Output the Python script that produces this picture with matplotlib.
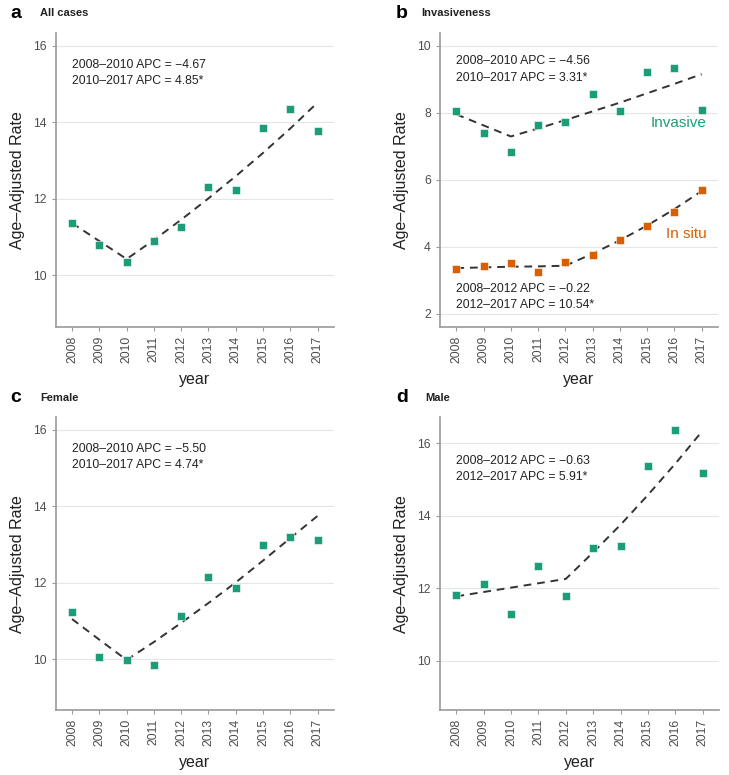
import matplotlib
matplotlib.use("Agg")
import matplotlib.pyplot as plt
import numpy as np

plt.rcParams['font.family'] = ['Liberation Sans', 'DejaVu Sans']

years = np.arange(2008, 2018)

# panel a: all cases
all_obs = [11.37, 10.80, 10.35, 10.89, 11.25, 12.31, 12.24, 13.86, 14.34, 13.78]
all_fit = [11.36, 10.89, 10.42, 10.92, 11.45, 12.01, 12.59, 13.20, 13.84, 14.52]
all_txt = ["2008–2010 APC = −4.67", "2010–2017 APC = 4.85*"]

# panel b: invasiveness
inv_obs = [8.05, 7.39, 6.83, 7.64, 7.72, 8.57, 8.04, 9.23, 9.32, 8.08]
inv_fit = [7.95, 7.62, 7.29, 7.53, 7.78, 8.04, 8.30, 8.58, 8.86, 9.15]
inv_txt = ["2008–2010 APC = −4.56", "2010–2017 APC = 3.31*"]
situ_obs = [3.32, 3.41, 3.50, 3.24, 3.53, 3.74, 4.19, 4.63, 5.02, 5.70]
situ_fit = [3.36, 3.38, 3.40, 3.41, 3.43, 3.79, 4.19, 4.63, 5.12, 5.66]
situ_txt = ["2008–2012 APC = −0.22", "2012–2017 APC = 10.54*"]

# panel c: female
fem_obs = [11.23, 10.05, 9.97, 9.86, 11.13, 12.16, 11.85, 12.99, 13.21, 13.12]
fem_fit = [11.05, 10.51, 9.98, 10.45, 10.95, 11.47, 12.01, 12.58, 13.17, 13.75]
fem_txt = ["2008–2010 APC = −5.50", "2010–2017 APC = 4.74*"]

# panel d: male
male_obs = [11.81, 12.12, 11.30, 12.61, 11.79, 13.12, 13.17, 15.38, 16.36, 15.17]
male_fit = [11.78, 11.90, 12.02, 12.14, 12.26, 12.99, 13.75, 14.57, 15.43, 16.34]
male_txt = ["2008–2012 APC = −0.63", "2012–2017 APC = 5.91*"]

GREEN = '#1b9e77'
ORANGE = '#d95f02'
GREY = '#4d4d4d'

fig = plt.figure(figsize=(7.29, 7.75), dpi=100)
W, H = 729, 775


def make_ax(l, t, r, b):
    return fig.add_axes([l / W, 1 - b / H, (r - l) / W, (b - t) / H])


def style(ax, ylim, yticks):
    ax.set_xlim(2007.4, 2017.6)
    ax.set_ylim(*ylim)
    ax.set_xticks(years)
    ax.set_xticklabels([str(y) for y in years], rotation=90)
    ax.set_yticks(yticks)
    ax.grid(axis='y', color='#e5e5e5', lw=0.8)
    ax.set_axisbelow(True)
    for s in ['top', 'right']:
        ax.spines[s].set_visible(False)
    for s in ['left', 'bottom']:
        ax.spines[s].set_color('#9a9a9a')
        ax.spines[s].set_linewidth(1.2)
    ax.tick_params(colors='#9a9a9a', labelcolor=GREY, labelsize=8.8, length=3, width=0.8)
    ax.set_xlabel('year', fontsize=11.5, color='#222222', labelpad=6)
    ax.set_ylabel('Age–Adjusted Rate', fontsize=11.5, color='#222222', labelpad=6)


def series(ax, obs, fit, color):
    ax.plot(years, fit, ls=(0, (4, 3)), color='#333333', lw=1.4, zorder=2)
    ax.plot(years, obs, ls='none', marker='s', ms=5.2, color=color,
            markeredgecolor='white', markeredgewidth=0.4, zorder=3)


def apc(ax, lines, y1, y2):
    ax.text(2008, y1, lines[0], fontsize=8.8, color='#222222', va='center', ha='left')
    ax.text(2008, y2, lines[1], fontsize=8.8, color='#222222', va='center', ha='left')


def header(x, y, letter, title, xt):
    fig.text(x / W, 1 - y / H, letter, fontsize=14, fontweight='bold', va='center', ha='left')
    fig.text(xt / W, 1 - y / H, title, fontsize=8, fontweight='bold', color='#222222',
             va='center', ha='left')


# a
axa = make_ax(55.7, 33, 334, 327)
style(axa, (8.64, 16.34), [10, 12, 14, 16])
series(axa, all_obs, all_fit, GREEN)
apc(axa, all_txt, 15.50, 15.09)
header(10, 13, 'a', 'All cases', 39.5)

# b
axb = make_ax(440, 33, 718, 327)
style(axb, (1.6, 10.38), [2, 4, 6, 8, 10])
series(axb, inv_obs, inv_fit, GREEN)
series(axb, situ_obs, situ_fit, ORANGE)
apc(axb, inv_txt, 9.53, 9.05)
apc(axb, situ_txt, 2.73, 2.25)
axb.text(2017.18, 7.68, 'Invasive', color=GREEN, fontsize=11, ha='right', va='center')
axb.text(2017.18, 4.39, 'In situ', color=ORANGE, fontsize=11, ha='right', va='center')
header(396, 13, 'b', 'Invasiveness', 421)

# c
axc = make_ax(55.7, 417.3, 334, 710)
style(axc, (8.67, 16.33), [10, 12, 14, 16])
series(axc, fem_obs, fem_fit, GREEN)
apc(axc, fem_txt, 15.50, 15.08)
header(10, 398, 'c', 'Female', 40.5)

# d
axd = make_ax(440, 417.3, 719, 710)
style(axd, (8.65, 16.71), [10, 12, 14, 16])
series(axd, male_obs, male_fit, GREEN)
apc(axd, male_txt, 15.50, 15.06)
header(396, 398, 'd', 'Male', 425.5)

fig.savefig('out.png', dpi=100, facecolor='white')
